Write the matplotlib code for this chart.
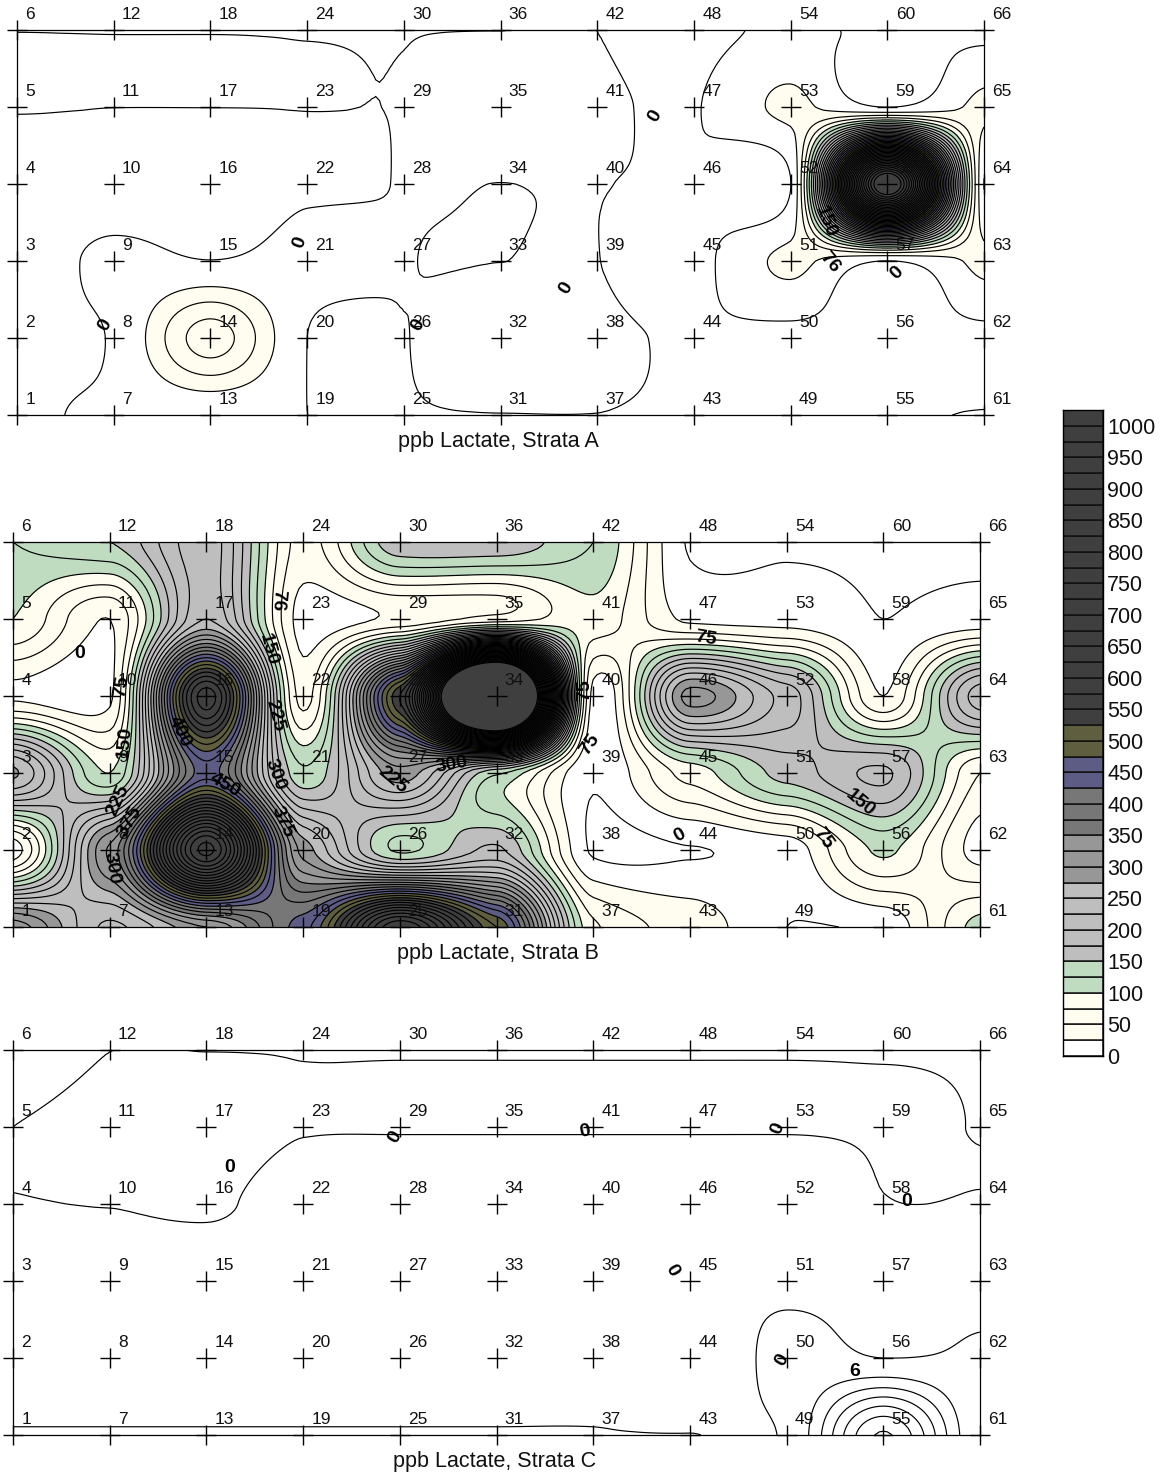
import numpy as np
import matplotlib
matplotlib.use('Agg')
import matplotlib.pyplot as plt

plt.rcParams['font.family'] = ['Liberation Sans', 'DejaVu Sans']

W, H = 1164, 1473
wells = list(range(1, 67))

# values by well number 1..66 (six wells per column, bottom to top)
strata_a = [
    -1, -1, -8, -8, .3, -.005,
    1, 1, 3, -8, .02, -.005,
    2, 88, .2, -8, .02, -.005,
    .002, .002, 3, -1, .02, -.005,
    -.02, -.02, .05, .05, .02, -.005,
    -.01, 1, -.005, -.005, 1, -.005,
    -.01, 1, .05, .05, 1, -.005,
    -.3, -1, -5, -.5, -.8, -5,
    -.5, -5, 30, -.5, 30, 4,
    -.5, -5, -.5, 1080, -.5, -4,
    .2, -5, 30, -.5, 30, -5,
]
strata_b = [
    340, 10, 280, 20, 100, 125,
    220, 330, 100, 20, 25, 150,
    300, 860, 440, 640, 250, 240,
    440, 290, 130, 40, 15, 40,
    750, 120, 290, 550, 30, 170,
    500, 180, 130, 1650, 60, 170,
    80, -3, 2, 15, 90, 125,
    40, -1, 85, 310, 20, -2,
    0, 10, 160, 215, 15, -2,
    5, 105, 205, 25, 0, -2,
    110, 15, 50, 240, 10, -2,
]
strata_c = [
    .03, -.5, -.5, -.01, 0, -.5,
    .03, -.5, -.5, .01, .3, -.003,
    .03, -.5, -.5, .1, .3, -.003,
    .03, -.5, -.5, -.3, .02, -.003,
    .03, -.5, -.5, -.5, .02, -.003,
    .03, -.5, -.5, -.5, .02, -.003,
    .03, -.5, -.5, -.5, .02, -.003,
    .03, -3, -.5, -.5, .02, -.003,
    .3, 1, -.5, -.5, .02, -.003,
    24.5, 0, -.5, -.01, .02, -.003,
    .3, .2, -.5, -.01, -.002, -.003,
]

band_colors = ['#ffffff'] + ['#fffdf0'] * 3 + ['#c0dcc0'] * 2 + ['#bebebe'] * 5 + \
    ['#979797'] * 3 + ['#777777'] * 3 + ['#5c5c84'] * 2 + ['#5f5f3f'] * 2 + ['#3f3f3f'] * 20
band_step = 25
color_ticks = list(range(0, 1001, 50))

titles = ['ppb Lactate, Strata A', 'ppb Lactate, Strata B', 'ppb Lactate, Strata C']
panel_tops = [30, 542, 1050]
panel_lefts = [17, 13, 13]
title_centers = [498, 498, 495]

# contour label annotations: text, x px, y px, rotation
labels_a = [('0', 105, 325, 60), ('0', 300, 242, 70), ('0', 418, 325, 60), ('0', 655, 116, 60),
            ('0', 566, 288, 60), ('76', 830, 262, -50), ('0', 897, 273, 45), ('150', 826, 222, -70)]
labels_b = [('0', 80, 653, 0), ('75', 122, 687, 80), ('150', 125, 742, 85), ('225', 118, 800, 65),
            ('375', 130, 822, 60), ('300', 112, 868, -80), ('400', 180, 732, -65), ('450', 225, 785, -30),
            ('76', 278, 600, -95), ('150', 268, 650, -75), ('225', 275, 715, -75), ('300', 275, 775, -70),
            ('375', 282, 822, -65), ('225', 393, 780, -40), ('300', 452, 765, 10), ('75', 706, 638, -10),
            ('75', 590, 745, 55), ('75', 585, 690, 90), ('0', 680, 835, 30), ('150', 860, 803, -40),
            ('75', 823, 838, -55)]
labels_c = [('0', 395, 1137, 60), ('0', 230, 1168, 0), ('0', 585, 1132, 10), ('0', 778, 1128, 70),
            ('0', 907, 1201, 0), ('0', 782, 1360, 60), ('6', 855, 1372, 0), ('0', 672, 1270, -60)]


def cardinal(values, axis, alpha=0.3, n=24):
    """Upsample a grid along one axis with a tension spline."""
    def one(p):
        m = np.gradient(p) * alpha
        out = []
        for k in range(len(p) - 1):
            t = np.arange(n) / n
            out.append((2*t**3 - 3*t**2 + 1) * p[k] + (t**3 - 2*t**2 + t) * m[k]
                       + (-2*t**3 + 3*t**2) * p[k+1] + (t**3 - t**2) * m[k+1])
        out.append(p[-1:])
        return np.concatenate(out)
    return np.apply_along_axis(one, axis, values)


fig = plt.figure(figsize=(W / 100, H / 100), dpi=100)
levels = np.arange(0, 1026, band_step)
width, height = 967, 385


def draw_panel(values, left, top, title, title_x, labels, line_levels):
    ax = fig.add_axes([left / W, 1 - (top + height) / H, width / W, height / H])
    g = np.array(values, dtype=float).reshape(11, 6)
    fine = cardinal(cardinal(g, 0), 1)
    x = np.linspace(0, 10, fine.shape[0])
    y = np.linspace(0, 5, fine.shape[1])
    ax.contourf(x, y, fine.T, levels=levels, colors=band_colors[:len(levels) - 1], extend='both')
    ax.contour(x, y, fine.T, levels=line_levels, colors='black', linewidths=0.85)
    ax.set_xlim(0, 10)
    ax.set_ylim(0, 5)
    ax.set_xticks([])
    ax.set_yticks([])
    for s in ax.spines.values():
        s.set_linewidth(0.9)
    xs = np.repeat(np.arange(11), 6)
    ys = np.tile(np.arange(6), 11)
    ax.scatter(xs, ys, marker='+', s=220, c='black', linewidths=1.0, clip_on=False, zorder=5)
    for w, xv, yv in zip(wells, xs, ys):
        ax.annotate(str(w), (xv, yv), xytext=(6, 11.5), textcoords='offset points',
                    ha='left', va='center', fontsize=12.5, color='#111111', annotation_clip=False, zorder=6)
    fig.text(title_x / W, 1 - (top + height + 26) / H, title, ha='center', va='center', fontsize=15.5, color='#111111')
    for s, px, py, rot in labels:
        fig.text(px / W, 1 - py / H, s, ha='center', va='center', rotation=rot,
                 fontsize=14, fontweight='bold', color='black', zorder=10)
    return ax


draw_panel(strata_a, panel_lefts[0], panel_tops[0], titles[0], title_centers[0], labels_a, levels)
draw_panel(strata_b, panel_lefts[1], panel_tops[1], titles[1], title_centers[1], labels_b, levels)
draw_panel(strata_c, panel_lefts[2], panel_tops[2], titles[2], title_centers[2], labels_c, np.arange(0, 25, 4))

# colour scale
cax = fig.add_axes([1063 / W, 1 - 1056 / H, 40 / W, 646 / H])
edges = np.arange(0, 1026, band_step)
cax.bar(np.zeros(len(edges) - 1), np.diff(edges), bottom=edges[:-1], width=1,
        color=band_colors[:len(edges) - 1], edgecolor='#111111', linewidth=1.1)
cax.set_xlim(-0.5, 0.5)
cax.set_ylim(0, 1025)
cax.set_xticks([])
cax.yaxis.tick_right()
cax.set_yticks(color_ticks)
cax.set_yticklabels([str(v) for v in color_ticks], fontsize=15.5, color='#111111')
cax.tick_params(axis='y', length=0, pad=3)
for s in cax.spines.values():
    s.set_linewidth(1.0)

fig.savefig('out.png', dpi=100, facecolor='white')
